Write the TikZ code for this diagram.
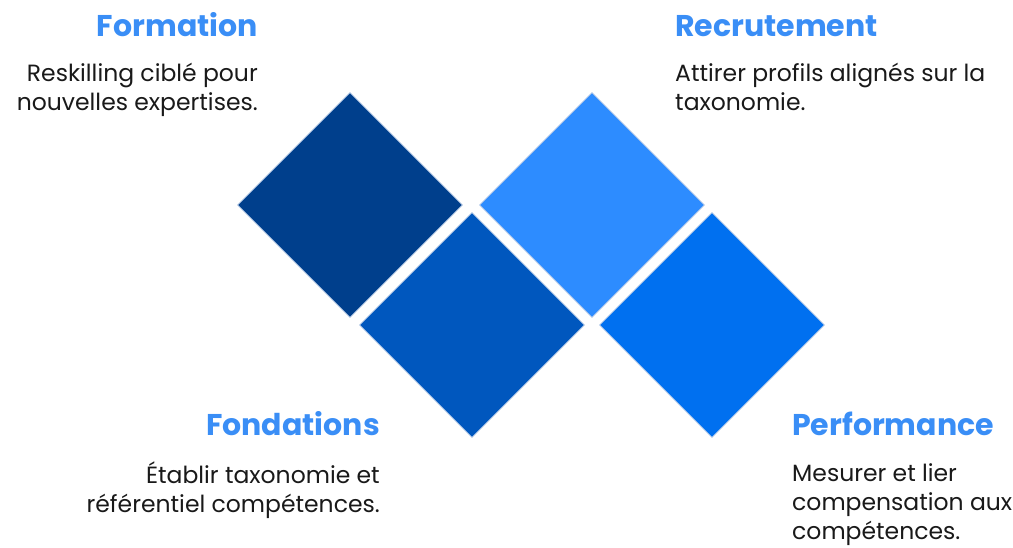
\documentclass[tikz,border=0pt]{standalone}
\usepackage{fontspec}
\setmainfont{Poppins}
\usetikzlibrary{shapes.geometric,positioning}

\definecolor{navy}{HTML}{003F8C}
\definecolor{skyblue}{HTML}{2D8CFF}
\definecolor{midblue}{HTML}{0057BE}
\definecolor{brightblue}{HTML}{0070F0}
\definecolor{headblue}{HTML}{3A8EF6}
\definecolor{edgeblue}{HTML}{B5C9E6}

\begin{document}
\begin{tikzpicture}[x=1pt,y=-1pt,
  tile/.style={diamond,aspect=1,minimum width=225pt,minimum height=225pt,inner sep=0pt,draw=edgeblue,line width=0.8pt},
  title/.style={text=headblue,font=\fontsize{30}{34}\selectfont\bfseries,inner sep=0pt},
  blurb/.style={text=black!90,font=\fontsize{23.5}{28.8}\selectfont,inner sep=0pt}]
  \useasboundingbox (0,0) rectangle (1013,547);

  % the four tiles
  \node[tile,fill=navy] (formtile) at (350,205) {};
  \node[tile,fill=skyblue] (recrtile) at (592,205) {};
  \node[tile,fill=midblue] (fondtile) at (472,325) {};
  \node[tile,fill=brightblue] (perftile) at (712,325) {};

  % labels, left side (base = last line of the text)
  \node[title,anchor=base east] (form) at (258,36.5) {Formation};
  \node[blurb,anchor=base east,align=right] (formtxt) at (258,110) {Reskilling ciblé pour\\nouvelles expertises.};
  \node[title,anchor=base east] (fond) at (380,435.5) {Fondations};
  \node[blurb,anchor=base east,align=right] (fondtxt) at (380,512) {Établir taxonomie et\\référentiel compétences.};

  % labels, right side
  \node[title,anchor=base west] (recr) at (675,36.5) {Recrutement};
  \node[blurb,anchor=base west,align=left] (recrtxt) at (675,110) {Attirer profils alignés sur la\\taxonomie.};
  \node[title,anchor=base west] (perf) at (792,435.5) {Performance};
  \node[blurb,anchor=base west,align=left] (perftxt) at (792,539) {Mesurer et lier\\compensation aux\\compétences.};
\end{tikzpicture}
\end{document}
